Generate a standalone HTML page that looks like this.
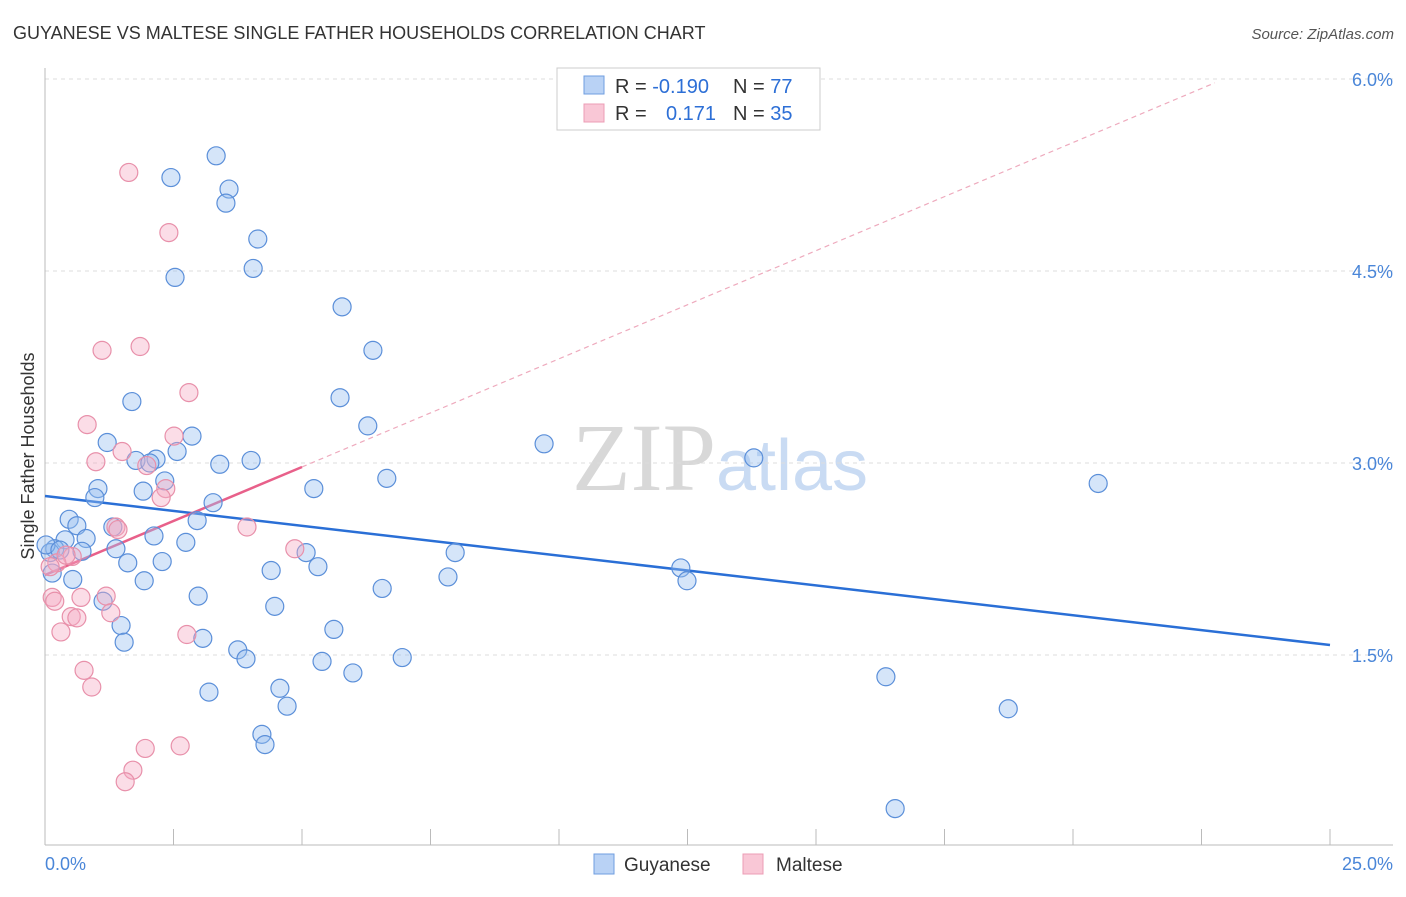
<!DOCTYPE html>
<html><head><meta charset="utf-8"><style>
body{margin:0;background:#fff;font-family:"Liberation Sans",sans-serif;}
svg text{font-family:"Liberation Sans",sans-serif;}
</style></head><body>
<svg id="chart" width="1406" height="892" viewBox="0 0 1406 892" xmlns="http://www.w3.org/2000/svg">
<text x="13" y="39" font-size="18" fill="#333">GUYANESE VS MALTESE SINGLE FATHER HOUSEHOLDS CORRELATION CHART</text>
<text x="1394" y="39" font-size="15" fill="#555" font-style="italic" text-anchor="end">Source: ZipAtlas.com</text>
<text x="720" y="490" font-size="96" text-anchor="middle"><tspan fill="#d8d8d8" font-family="Liberation Serif,serif">ZIP</tspan><tspan fill="#c9dbf3" font-size="72">atlas</tspan></text>
<g id="grid"></g>
<g id="axes"></g>
<g id="lines"></g>
<g id="points"></g>
<text transform="translate(34,456) rotate(-90)" font-size="18" fill="#333" text-anchor="middle">Single Father Households</text>
<g>
<rect x="557" y="68" width="263" height="62" fill="#fff" stroke="#ccc"/>
<rect x="584" y="76" width="20" height="18" fill="#b9d2f5" stroke="#6f9ee0"/>
<rect x="584" y="104" width="20" height="18" fill="#f9c7d6" stroke="#ec9cb5"/>
<text x="615" y="93" font-size="20" fill="#333">R = <tspan fill="#2d6fd6">-0.190</tspan></text>
<text x="733" y="93" font-size="20" fill="#333">N = <tspan fill="#2d6fd6">77</tspan></text>
<text x="615" y="120" font-size="20" fill="#333">R = <tspan fill="#2d6fd6" x="666">0.171</tspan></text>
<text x="733" y="120" font-size="20" fill="#333">N = <tspan fill="#2d6fd6">35</tspan></text>
</g>
<g>
<rect x="594" y="854" width="20" height="20" fill="#b9d2f5" stroke="#6f9ee0"/>
<text x="624" y="871" font-size="19" fill="#333">Guyanese</text>
<rect x="743" y="854" width="20" height="20" fill="#f9c7d6" stroke="#ec9cb5"/>
<text x="776" y="871" font-size="19" fill="#333">Maltese</text>
</g>
</svg>
<script>
const yTicks=[1.5,3.0,4.5,6.0];
const yTickLabels=["1.5%","3.0%","4.5%","6.0%"];
const xTickLabels=["0.0%","25.0%"];
const guyX=[3.33,2.45,3.58,3.52,4.14,4.05,2.53,5.78,6.38,1.69,5.74,6.28,1.21,2.86,2.57,1.77,2.16,2.04,3.40,4.01,9.71,13.79,20.49,6.65,2.33,1.03,0.97,1.91,5.23,3.27,0.47,0.62,1.32,2.96,2.12,0.39,0.80,2.74,0.19,0.10,1.38,0.72,5.08,7.98,2.28,1.61,4.40,5.31,0.14,0.54,1.93,7.84,12.37,12.49,6.56,1.13,2.98,4.47,1.48,5.62,1.54,3.07,3.75,3.91,5.39,6.95,5.99,16.36,3.19,4.57,4.71,18.74,4.22,4.28,16.54,0.02,0.29];
const guyY=[5.40,5.23,5.14,5.03,4.75,4.52,4.45,4.22,3.88,3.48,3.51,3.29,3.16,3.21,3.09,3.02,3.03,3.00,2.99,3.02,3.15,3.04,2.84,2.88,2.86,2.80,2.73,2.78,2.80,2.69,2.56,2.51,2.50,2.55,2.43,2.40,2.41,2.38,2.33,2.30,2.33,2.31,2.30,2.30,2.23,2.22,2.16,2.19,2.14,2.09,2.08,2.11,2.18,2.08,2.02,1.92,1.96,1.88,1.73,1.70,1.60,1.63,1.54,1.47,1.45,1.48,1.36,1.33,1.21,1.24,1.10,1.08,0.88,0.80,0.30,2.36,2.32];
const malX=[1.63,2.41,1.85,1.11,2.80,0.82,2.51,1.50,0.99,1.98,2.35,2.26,1.38,1.42,3.93,4.86,0.53,0.23,0.10,0.14,0.19,0.70,1.19,0.51,0.62,1.28,0.31,2.76,0.76,0.91,1.95,2.63,1.71,1.56,0.41];
const malY=[5.27,4.80,3.91,3.88,3.55,3.30,3.21,3.09,3.01,2.98,2.80,2.73,2.50,2.48,2.50,2.33,2.27,2.22,2.19,1.95,1.92,1.95,1.96,1.80,1.79,1.83,1.68,1.66,1.38,1.25,0.77,0.79,0.60,0.51,2.28];
const guyTrend=[2.742,1.578];
const malTrend=[2.125,2.969,5.97];
const NS="http://www.w3.org/2000/svg";
const X0=45,X1=1330,Y0=847,PX_PER=128;
function xs(v){return X0+v/25*(X1-X0);}
function ys(v){return Y0-v*PX_PER;}
function mk(tag,attrs,parent){const e=document.createElementNS(NS,tag);for(const k in attrs)e.setAttribute(k,attrs[k]);parent.appendChild(e);return e;}
const grid=document.getElementById('grid'),axes=document.getElementById('axes'),lines=document.getElementById('lines'),pts=document.getElementById('points');
yTicks.forEach((t,i)=>{
 const l=mk('line',{x1:X0,x2:1393,y1:ys(t),y2:ys(t),stroke:'#ddd','stroke-dasharray':'4,4'},grid);
 
 
 const tx=mk('text',{x:1393,y:ys(t)+7,'font-size':18,fill:'#4a86d8','text-anchor':'end'},axes);
 tx.textContent=yTickLabels[i];
 
 
});
mk('line',{x1:X0,x2:X0,y1:68,y2:845,stroke:'#bbb'},axes);
mk('line',{x1:X0,x2:1393,y1:845,y2:845,stroke:'#bbb'},axes);
for(let i=0;i<=10;i++){const x=xs(i*2.5);const t=mk('line',{x1:x,x2:x,y1:829,y2:845,stroke:'#bbb'},axes);}
const xl0=mk('text',{x:45,y:870,'font-size':18,fill:'#4a86d8'},axes);xl0.textContent=xTickLabels[0];


const xl1=mk('text',{x:1393,y:870,'font-size':18,fill:'#4a86d8','text-anchor':'end'},axes);xl1.textContent=xTickLabels[1];


guyX.forEach((v,i)=>{const c=mk('circle',{cx:xs(v),cy:ys(guyY[i]),r:9,fill:'rgba(150,190,240,0.4)',stroke:'#5b8fd9','stroke-width':1.2},pts);
 
 });
malX.forEach((v,i)=>{const c=mk('circle',{cx:xs(v),cy:ys(malY[i]),r:9,fill:'rgba(245,170,195,0.4)',stroke:'#e890aa','stroke-width':1.2},pts);
 
 });
const bl=mk('line',{x1:xs(0),y1:ys(guyTrend[0]),x2:xs(25),y2:ys(guyTrend[1]),stroke:'#2a6fd6','stroke-width':2.5},lines);


const pd=mk('line',{x1:xs(5),y1:ys(malTrend[1]),x2:xs(22.76),y2:ys(malTrend[2]),stroke:'#eeaabd','stroke-width':1.2,'stroke-dasharray':'5,4'},lines);


const pl=mk('line',{x1:xs(0),y1:ys(malTrend[0]),x2:xs(5),y2:ys(malTrend[1]),stroke:'#e8608a','stroke-width':2.5},lines);


</script>
</body></html>
